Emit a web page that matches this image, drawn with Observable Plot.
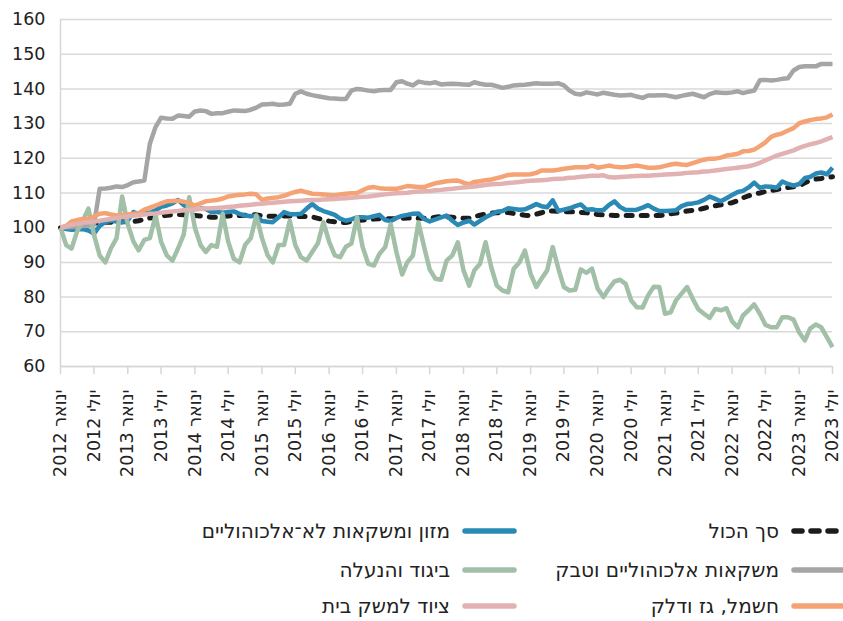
<!DOCTYPE html>
<html><head><meta charset="utf-8">
<script src="https://cdn.jsdelivr.net/npm/d3@7"></script>
<script src="https://cdn.jsdelivr.net/npm/@observablehq/plot@0.6"></script>
<style>
body{margin:0;background:#fff;font-family:"DejaVu Sans",sans-serif;}
#wrap{position:relative;width:843px;height:621px;overflow:hidden;background:#fff;}
.sym{position:absolute;}
.lt{position:absolute;font-size:20px;color:#222;white-space:nowrap;direction:rtl;transform:translateY(-50%);line-height:1.1;}
</style></head><body><div id="wrap"><div id="chart"></div></div>
<script>
// Monthly index values, January 2012 = 100 (Jan 2012 .. Jul 2023)
const startYear = 2012;
const seriesNames = ["סך הכול","מזון ומשקאות לא־אלכוהוליים","משקאות אלכוהוליים וטבק","ביגוד והנעלה","חשמל, גז ודלק","ציוד למשק בית"];
const tickLabels = ["ינואר 2012","יולי 2012","ינואר 2013","יולי 2013","ינואר 2014","יולי 2014","ינואר 2015","יולי 2015","ינואר 2016","יולי 2016","ינואר 2017","יולי 2017","ינואר 2018","יולי 2018","ינואר 2019","יולי 2019","ינואר 2020","יולי 2020","ינואר 2021","יולי 2021","ינואר 2022","יולי 2022","ינואר 2023","יולי 2023"];
const yTicks = [60,70,80,90,100,110,120,130,140,150,160];

const total = [100,100.2,100.5,100.7,100.9,101.1,101.3,101.5,101.6,101.6,101.7,101.8,
101.7,101.8,102,102.4,102.8,103.1,103.3,103.6,103.7,103.8,103.7,103.6,
103.5,103.4,103.2,103,103,103.2,103.4,103.5,103.5,103.6,103.7,103.7,
103.4,103.3,103.3,103.3,103.4,103.4,103.3,103.2,103.2,103.1,102.7,102.3,
101.9,101.7,101.5,101.5,101.8,102,102.2,102.3,102.5,102.6,102.6,102.6,
102.6,102.7,102.8,102.8,102.7,102.7,102.7,103,103.2,103.1,103,102.9,
102.7,102.7,103.2,103.6,103.9,104.2,104.3,104.4,104.4,104.1,103.8,103.6,
103.5,103.9,104.3,104.8,104.8,104.7,104.6,104.6,104.6,104.4,104.3,104.1,
103.8,103.7,103.6,103.5,103.5,103.5,103.5,103.5,103.5,103.5,103.5,103.5,
103.7,104,104.2,104.5,104.8,105,105.2,105.6,106,106.3,106.6,106.9,
107.2,107.8,108.6,109.2,109.7,110,110.4,110.7,111,111.3,111.6,111.8,
112,113,113.6,114,114.2,114.5,114.7];

const food = [100,99.6,99.4,99.5,99.6,99.2,98.3,100.5,101.6,102,101.8,101.5,
102.1,104.5,103.9,104,104.3,105,106,106.4,107,108,106.5,105.8,
105.3,105.5,105.4,104.5,104.5,104.3,104.5,104.7,104,103.5,103.3,103.5,
101.9,101.7,101.6,103,104.5,103.9,103.9,104,105.5,106.8,105.5,104.8,
104.3,103.7,102.6,102,102.4,103,103,102.9,103.3,103.7,102.2,101.9,
102.8,103.4,103.7,104,104.1,102.5,101.8,102.4,103,103.5,102,100.8,
101.5,102,100.9,102,103,103.8,104.6,104.8,105.6,105.4,105.2,105.3,
106,106.8,106.2,105.9,107.9,104.8,105.2,105.6,106.2,106.7,105.2,105.3,
105,105.1,106.5,107.6,106,105.1,105.1,105.2,105.8,106.5,105.5,104.8,
104.8,104.9,105,106.2,106.8,107,107.3,108,109,108.3,107.6,108.5,
109.4,110.3,110.6,111.6,113,111.5,111.9,111.8,111.5,113.3,112.6,112.1,
112.6,114.3,114.6,115.6,115.9,115.4,117.3];

const alcohol = [100,100.1,100.2,100.3,100.5,100.6,100.8,111.2,111.3,111.5,111.9,111.7,
112.3,113.1,113.3,113.6,124.2,129,131.7,131.5,131.4,132.3,132.2,132,
133.5,133.8,133.6,132.8,133,133,133.4,133.8,133.7,133.6,134,134.6,
135.5,135.6,135.7,135.4,135.5,135.7,138.6,139.3,138.6,138.2,137.9,137.6,
137.3,137.2,137.1,137.1,139.5,140,139.8,139.5,139.3,139.6,139.7,139.7,
141.9,142.2,141.5,141,142.1,141.8,141.6,141.9,141.3,141.4,141.5,141.4,
141.3,141.2,141.9,141.5,141.2,141.2,140.8,140.3,140.6,141,141.1,141.2,
141.4,141.6,141.5,141.5,141.5,141.6,141,139.5,138.6,138.4,139,138.7,
138.4,138.9,138.6,138.3,138.1,138.2,138.3,137.8,137.4,138.1,138.1,138.2,
138.2,137.9,137.6,138,138.3,138.6,138.1,137.6,138.5,139,138.9,138.8,
139,139.3,138.8,139.2,139.5,142.5,142.6,142.4,142.6,142.9,143.1,145.3,
146.3,146.5,146.5,146.5,147.2,147.2,147.2];

const clothing = [100,95,94,99,102,105.5,98,92,90,94,97,109,
101,96,93.5,96.5,97,103.5,96,92,90.5,94,98,108.8,
100,95,93,95,94.5,104,96,91,90,95,97,103.5,
97,92,90,95,95,102,95,91.5,90.5,93,95.5,101.6,
96,92,91.5,94.5,95.4,103,94.5,89.6,89.1,92.5,94.4,101,
93,86.5,90,92,101.5,94.4,88,85.3,85,90.5,92,95.8,
87.7,83.3,87.7,89.6,95.8,88.6,83.3,81.9,81.4,88.2,90,93.4,
86.7,82.9,85.3,87.7,94.4,88.2,82.9,81.9,82.1,88,87,88.2,
82.4,80,82.4,84.5,85,83.8,79,77.1,77,80.5,83,82.9,
75.2,75.6,79,81,82.9,79.5,76.5,75.2,74,76.6,76.2,76.8,
73,71.3,74.7,76.2,77.9,75.2,72,71.3,71.3,74.2,74.2,73.5,
69.8,67.5,70.9,72.1,71.3,68.4,65.6];

const electricity = [100,100.5,101.8,102.2,102.5,102.6,103.2,104,104.2,103.8,103.5,103.6,
103.8,104,104.2,105.2,105.8,106.4,107,107.6,107.7,107.8,107.5,107.1,
106.4,107,107.6,107.8,108,108.4,109,109.3,109.5,109.6,109.8,109.6,
108,108.4,108.6,108.8,109.2,109.8,110.3,110.7,110.2,109.8,109.7,109.6,
109.4,109.3,109.6,109.8,109.9,110,110.8,111.5,111.7,111.4,111.2,111.2,
111.2,111.6,112,111.9,111.7,111.7,112.3,112.8,113.1,113.4,113.5,113.6,
113,112.5,113.2,113.4,113.7,113.9,114.3,114.7,115.2,115.3,115.3,115.3,
115.4,115.8,116.5,116.5,116.5,116.7,117,117.2,117.4,117.4,117.4,117.9,
117.3,117.6,117.9,117.6,117.4,117.5,117.7,117.9,117.6,117.3,117.3,117.4,
117.8,118.2,118.4,118.2,118.1,118.6,119.1,119.6,119.9,119.9,120.2,120.8,
121,121.3,122,122.1,122.5,123.5,124.6,126.2,126.8,127.2,128,128.7,
130.1,130.6,131,131.3,131.5,131.8,132.6];

const household = [100,100.4,100.8,101.1,101.4,101.6,101.8,102,102.3,102.5,102.8,103,
103.2,103.5,103.6,103.8,104,104.1,104.3,104.5,104.7,104.8,105,105.1,
105.3,105.4,105.5,105.6,105.7,105.8,106,106.1,106.3,106.5,106.6,106.8,
106.9,107.1,107.2,107.3,107.5,107.6,107.7,107.8,107.9,108,108,108.1,
108.2,108.3,108.4,108.5,108.6,108.8,108.9,109,109.2,109.4,109.6,109.8,
109.9,110,110.1,110.3,110.4,110.5,110.6,110.8,110.9,111.1,111.2,111.4,
111.6,111.7,111.9,112.1,112.3,112.5,112.6,112.7,112.9,113,113.2,113.4,
113.5,113.6,113.7,113.8,114,114.1,114.2,114.4,114.5,114.7,114.8,115,
115,115.1,114.6,114.5,114.6,114.7,114.8,114.9,115,115,115.1,115.2,
115.3,115.4,115.5,115.6,115.8,115.9,116,116.2,116.3,116.5,116.7,116.9,
117.1,117.3,117.5,117.7,118.1,118.7,119.4,120.1,120.8,121.3,121.8,122.3,
123,123.6,124,124.4,124.9,125.5,126.1];

const seriesValues = [total, food, alcohol, clothing, electricity, household];
const colors = ["#1c1c1c","#2a8ab5","#a5a5a5","#a2bfa7","#f5a275","#e2b1b1"];

const N = total.length;
const dates = d3.range(N).map(i => new Date(Date.UTC(startYear, i, 1)));
const tickDates = d3.range(0, N, 6).map(i => dates[i]);

const lineMarks = seriesValues.map((vals, s) => Plot.line(vals, {
  x: (d, i) => dates[i], y: d => d,
  stroke: colors[s], strokeWidth: s === 0 ? 5 : 4.5,
  strokeLinejoin: "round", strokeLinecap: s === 0 ? "round" : "butt",
  strokeDasharray: s === 0 ? "6,9" : null
}));

const chart = Plot.plot({
  width: 843, height: 500,
  marginTop: 19, marginBottom: 134, marginLeft: 60, marginRight: 11,
  style: {fontFamily: '"DejaVu Sans", sans-serif', background: "#fff", color: "#222", overflow: "visible"},
  x: {type: "utc", domain: [dates[0], dates[N - 1]]},
  y: {domain: [60, 160]},
  marks: [
    Plot.gridY(yTicks, {stroke: "#d9d9d9", strokeOpacity: 1, strokeWidth: 1.5}),
    Plot.ruleX([dates[0]], {stroke: "#d6d6d6", strokeWidth: 1.5}),
    Plot.ruleY([60], {stroke: "#d6d6d6", strokeWidth: 1.5}),
    Plot.axisX({ticks: tickDates, tickSize: 8, tickFormat: () => "", stroke: "#d6d6d6", strokeWidth: 1.5, label: null}),
    Plot.text(tickDates, {x: d => d, frameAnchor: "bottom", text: (d, i) => tickLabels[i], rotate: -90,
      textAnchor: "end", lineAnchor: "middle", dy: 23, dx: 0, fontSize: 17.5, fill: "#222"}),
    Plot.axisY({ticks: yTicks, tickSize: 0, tickPadding: 15, fontSize: 17.5, fill: "#222", label: null}),
    ...lineMarks
  ]
});
document.getElementById("chart").appendChild(chart);

// Legend (RTL, two columns)
const wrap = document.getElementById("wrap");
const legendRows = [531, 570, 606];
const colSym = [790, 461];
const colTextRight = [843 - 779, 843 - 450];
seriesNames.forEach((name, s) => {
  const row = Math.floor(s / 2), col = s % 2;
  const cy = legendRows[row];
  const svgNS = "http://www.w3.org/2000/svg";
  const svg = document.createElementNS(svgNS, "svg");
  svg.setAttribute("width", 58); svg.setAttribute("height", 12);
  svg.setAttribute("class", "sym");
  svg.style.left = colSym[col] + "px"; svg.style.top = (cy - 6) + "px";
  const ln = document.createElementNS(svgNS, "line");
  ln.setAttribute("x1", 4); ln.setAttribute("x2", 53); ln.setAttribute("y1", 6); ln.setAttribute("y2", 6);
  ln.setAttribute("stroke", colors[s]); ln.setAttribute("stroke-width", 5.5);
  ln.setAttribute("stroke-linecap", "round");
  if (s === 0) ln.setAttribute("stroke-dasharray", "8,9");
  svg.appendChild(ln);
  wrap.appendChild(svg);
  const t = document.createElement("div");
  t.className = "lt"; t.textContent = name;
  t.style.right = colTextRight[col] + "px"; t.style.top = cy + "px";
  wrap.appendChild(t);
});
const bad = seriesValues.map(v => v.length).filter(l => l !== 139);
if (bad.length) { const w = document.createElement("div"); w.style.cssText = "position:absolute;left:100px;top:30px;color:red"; w.textContent = "LEN " + seriesValues.map(v=>v.length).join(","); wrap.appendChild(w); }
</script>
</body></html>
